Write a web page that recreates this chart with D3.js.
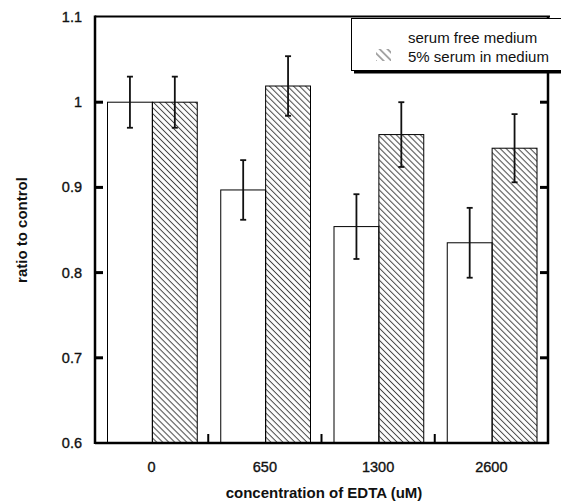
<!DOCTYPE html>
<html>
<head>
<meta charset="utf-8">
<script src="https://cdn.jsdelivr.net/npm/d3@7"></script>
<style>
  body { margin: 0; background: #fff; }
  svg { display: block; font-family: "Liberation Sans", Arial, sans-serif; }
</style>
</head>
<body>
<div id="chart"></div>
<script>
let categories = ["0", "650", "1300", "2600"]
let seriesNames = ["serum free medium", "5% serum in medium"]
let serumFree = [1.0, 0.897, 0.854, 0.835]
let serumFreeErr = [0.03, 0.035, 0.038, 0.041]
let serum5 = [1.0, 1.019, 0.962, 0.946]
let serum5Err = [0.03, 0.035, 0.038, 0.04]
let yTicks = [0.6, 0.7, 0.8, 0.9, 1.0, 1.1]

function addHatch(defs, id, gap, color){
    // lines going down to the right
    defs.append("pattern")
        .attr("id", id)
        .attr("patternUnits", "userSpaceOnUse")
        .attr("width", 8)
        .attr("height", gap)
        .attr("patternTransform", "rotate(45)")
        .append("line")
        .attr("x1", 0).attr("x2", 8)
        .attr("y1", gap / 2).attr("y2", gap / 2)
        .attr("stroke", color)
        .attr("stroke-width", 1)
}

function drawChart(){
    let width = 561, height = 502
    let left = 95, right = 548, top = 17, bottom = 443

    let svg = d3.select("#chart")
        .append("svg")
        .attr("width", width)
        .attr("height", height)

    let defs = svg.append("defs")
    addHatch(defs, "hatch", 4.25, "#444")
    addHatch(defs, "hatchLegend", 5.5, "#555")

    let x0 = d3.scaleBand().domain(categories).range([left, right]).padding(0)
    let x1 = d3.scaleBand().domain(seriesNames).range([12.5, x0.bandwidth() - 11])
    let y = d3.scaleLinear().domain([0.6, 1.1]).range([bottom, top])

    let rows = categories.map((c, i) => [
        {cat: c, name: seriesNames[0], v: serumFree[i], e: serumFreeErr[i]},
        {cat: c, name: seriesNames[1], v: serum5[i], e: serum5Err[i]}
    ]).flat()

    let g = svg.append("g")

    g.selectAll("rect.bar")
        .data(rows)
        .enter()
        .append("rect")
        .attr("class", "bar")
        .attr("x", d => x0(d.cat) + x1(d.name))
        .attr("width", x1.bandwidth())
        .attr("y", d => y(d.v))
        .attr("height", d => y(0.6) - y(d.v))
        .attr("fill", d => d.name == seriesNames[0] ? "#fff" : "url(#hatch)")
        .attr("stroke", "#000")
        .attr("stroke-width", 1)

    // error bars
    let err = g.selectAll("g.err")
        .data(rows)
        .enter()
        .append("g")
        .attr("class", "err")
        .attr("stroke", "#111")
        .attr("stroke-width", 1.8)
    err.append("line")
        .attr("x1", d => x0(d.cat) + x1(d.name) + x1.bandwidth() / 2)
        .attr("x2", d => x0(d.cat) + x1(d.name) + x1.bandwidth() / 2)
        .attr("y1", d => y(d.v + d.e))
        .attr("y2", d => y(d.v - d.e))
    err.selectAll("line.cap")
        .data(d => [d.v + d.e, d.v - d.e].map(v => ({d: d, v: v})))
        .enter()
        .append("line")
        .attr("class", "cap")
        .attr("x1", c => x0(c.d.cat) + x1(c.d.name) + x1.bandwidth() / 2 - 3)
        .attr("x2", c => x0(c.d.cat) + x1(c.d.name) + x1.bandwidth() / 2 + 3)
        .attr("y1", c => y(c.v))
        .attr("y2", c => y(c.v))

    // frame
    let frame = svg.append("g").attr("stroke", "#000")
    frame.append("line").attr("x1", left).attr("x2", right + 2).attr("y1", top - 0.5).attr("y2", top - 0.5).attr("stroke-width", 2)
    frame.append("line").attr("x1", left).attr("x2", left).attr("y1", top - 1.5).attr("y2", bottom + 1).attr("stroke-width", 2.5)
    frame.append("line").attr("x1", left).attr("x2", right + 1).attr("y1", bottom).attr("y2", bottom).attr("stroke-width", 2.5)
    frame.append("line").attr("x1", right).attr("x2", right).attr("y1", top).attr("y2", bottom + 1).attr("stroke-width", 2.5)

    // y ticks inside, both sides
    let inner = yTicks.filter(t => t > 0.6 && t < 1.1)
    frame.selectAll("line.ly")
        .data(inner)
        .enter()
        .append("line")
        .attr("x1", left).attr("x2", left + 8)
        .attr("y1", d => y(d)).attr("y2", d => y(d))
        .attr("stroke-width", 3)
    frame.selectAll("line.ry")
        .data(inner)
        .enter()
        .append("line")
        .attr("x1", right).attr("x2", right - 8)
        .attr("y1", d => y(d)).attr("y2", d => y(d))
        .attr("stroke-width", 3)

    // x ticks between groups
    frame.selectAll("line.xt")
        .data(categories.slice(1))
        .enter()
        .append("line")
        .attr("x1", d => x0(d)).attr("x2", d => x0(d))
        .attr("y1", bottom).attr("y2", bottom - 9)
        .attr("stroke-width", 2)

    // tick labels
    svg.append("g")
        .selectAll("text")
        .data(yTicks)
        .enter()
        .append("text")
        .attr("x", left - 13)
        .attr("y", d => y(d))
        .attr("dy", "0.35em")
        .attr("text-anchor", "end")
        .attr("font-size", 14.5)
        .attr("fill", "#111")
        .attr("stroke", "#111")
        .attr("stroke-width", 0.35)
        .text(d => d3.format("~g")(d))

    svg.append("g")
        .selectAll("text")
        .data(categories)
        .enter()
        .append("text")
        .attr("x", d => x0(d) + x0.bandwidth() / 2)
        .attr("y", 472)
        .attr("text-anchor", "middle")
        .attr("font-size", 14.5)
        .attr("fill", "#111")
        .attr("stroke", "#111")
        .attr("stroke-width", 0.35)
        .text(d => d)

    svg.append("text")
        .attr("x", 324)
        .attr("y", 498)
        .attr("text-anchor", "middle")
        .attr("font-size", 15)
        .attr("font-weight", "bold")
        .attr("fill", "#111")
        .text("concentration of EDTA (uM)")

    svg.append("text")
        .attr("transform", "translate(27," + ((top + bottom) / 2) + ") rotate(-90)")
        .attr("text-anchor", "middle")
        .attr("font-size", 15)
        .attr("font-weight", "bold")
        .attr("fill", "#111")
        .text("ratio to control")

    // legend with drop shadow
    let lg = svg.append("g")
    lg.append("rect").attr("x", 354).attr("y", 21.5).attr("width", 230).attr("height", 52).attr("fill", "#000")
    lg.append("rect").attr("x", 351.5).attr("y", 18.5).attr("width", 230).attr("height", 52)
        .attr("fill", "#fff").attr("stroke", "#000").attr("stroke-width", 1)
    seriesNames.forEach((name, i) => {
        lg.append("rect")
            .attr("x", 376).attr("y", 31 + i * 18)
            .attr("width", 15).attr("height", 12)
            .attr("fill", i == 0 ? "#fff" : "url(#hatchLegend)")
        lg.append("text")
            .attr("x", 408).attr("y", 43 + i * 19)
            .attr("font-size", 15)
            .attr("fill", "#111")
            .text(name)
    })
}

drawChart()
</script>
</body>
</html>
